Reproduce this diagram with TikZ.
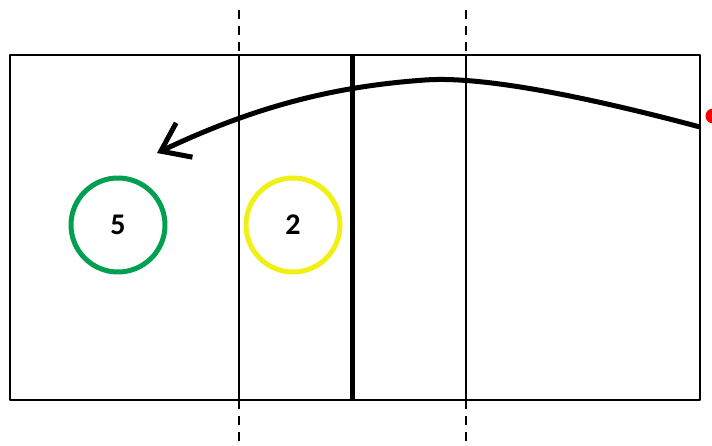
\documentclass[tikz,border=0pt]{standalone}
\usepackage{fontspec}
\setmainfont{Carlito}
\usetikzlibrary{arrows.meta}
\definecolor{ballgreen}{RGB}{0,160,80}
\definecolor{ballyellow}{RGB}{240,240,20}
\tikzset{
  zone/.style={line width=2pt},
  zoneext/.style={line width=2pt,dash pattern=on 9pt off 7pt},
  ball/.style={circle,line width=5pt,minimum size=94pt,inner sep=0pt,font=\bfseries\fontsize{30}{30}\selectfont},
}
\begin{document}
\begin{tikzpicture}[x=1pt,y=-1pt, line cap=butt,line join=round]
\useasboundingbox (0,0) rectangle (712,446);
\draw[zone]  (10,55) rectangle (700,400);
\draw[zone]  (239,55)-- (239,400);
\draw[zone]  (466,55)-- (466,400);
\draw[line width=5pt]  (352,55)-- (352,400);
\draw[zoneext]  (239,10)-- (239,55);
\draw[zoneext]  (239,400)-- (239,446);
\draw[zoneext]  (466,10)-- (466,55);
\draw[zoneext]  (466,400)-- (466,446);
% players
\node[ball,draw=ballgreen] (p5) at (118,225) {5};
\node[ball,draw=ballyellow] (p2) at (293,225) {2};
% ball path
\node[circle,fill=red,minimum size=15pt,inner sep=0pt] (ballpos) at (713,116) {};
\coordinate (start) at (700,127);
\coordinate (tip) at (157,153);
\draw[line width=5pt,-{Straight Barb[length=26pt,width=38pt,line width=5pt]}] (start) .. controls (580,95) and (480,76) .. (425,80) .. controls (340,86) and (260,104) .. (tip);
\end{tikzpicture}
\end{document}
